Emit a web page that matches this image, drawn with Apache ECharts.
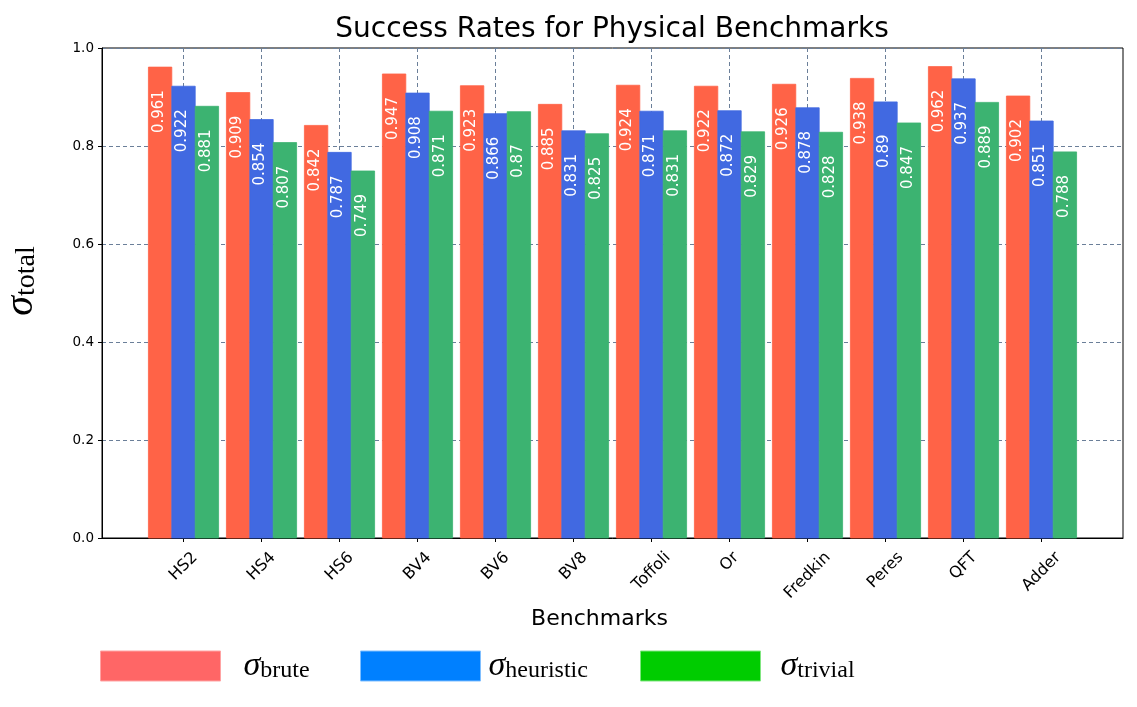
<!DOCTYPE html>
<html>
<head>
<meta charset="utf-8">
<script src="https://cdn.jsdelivr.net/npm/echarts@6/dist/echarts.min.js"></script>
<style>
html,body{margin:0;padding:0;background:#fff;}
#chart{width:1137px;height:707px;}
</style>
</head>
<body>
<div id="chart"></div>
<script>
const categories = ['HS2','HS4','HS6','BV4','BV6','BV8','Toffoli','Or','Fredkin','Peres','QFT','Adder'];
const bruteValues = [0.961,0.909,0.842,0.947,0.923,0.885,0.924,0.922,0.926,0.938,0.962,0.902];
const heuristicValues = [0.922,0.854,0.787,0.908,0.866,0.831,0.871,0.872,0.878,0.89,0.937,0.851];
const trivialValues = [0.881,0.807,0.749,0.871,0.87,0.825,0.831,0.829,0.828,0.847,0.889,0.788];
const yTickValues = [0, 0.2, 0.4, 0.6, 0.8, 1.0];
const seriesNames = ['brute','heuristic','trivial'];

const BAR_W = 0.3;
const barColors = ['#ff6347','#4169e1','#3cb371'];
const legendColors = ['#ff6666','#0080ff','#00cc00'];
const legendBorders = ['#ffa3a3','#80bfff','#80e680'];
const serif = 'Liberation Serif';
const XLAB_SIZE = 16;

// measure x label widths for matplotlib-like centered rotated labels
const cv = document.createElement('canvas').getContext('2d');
cv.font = XLAB_SIZE + 'px "DejaVu Sans"';
const xRich = {};
categories.forEach((c, i) => {
  const L = cv.measureText(c).width;
  xRich['l' + i] = {
    fontSize: XLAB_SIZE, fontFamily: 'DejaVu Sans', color: '#000',
    padding: [L / 2, L / 2, 0, 0]
  };
});

function mkData(vals, off) {
  return vals.map((v, i) => [i + off, v]);
}

function renderBar(params, api) {
  const x = api.value(0), v = api.value(1);
  const base = api.coord([x, 0]);
  const top = api.coord([x, v]);
  const w = api.size([BAR_W, 0])[0];
  const col = api.visual('color');
  return {
    type: 'group',
    children: [
      { type: 'rect', shape: { x: top[0] - w / 2, y: top[1], width: w, height: base[1] - top[1] },
        style: { fill: col, stroke: col, lineWidth: 0.8 } },
      { type: 'text', x: top[0] - 1, y: top[1] + 66, rotation: Math.PI / 2,
        style: { text: String(v), fill: '#fff', font: '15px "DejaVu Sans"', align: 'left', verticalAlign: 'middle' } }
    ]
  };
}

const allVals = [bruteValues, heuristicValues, trivialValues];
const offsets = [-BAR_W, 0, BAR_W];
const tickPositions = categories.map((c, i) => i);
// axis range like matplotlib: 5% margins around bar extents
const lo = -BAR_W - BAR_W / 2, hi = categories.length - 1 + BAR_W + BAR_W / 2;
const pad = (hi - lo) * 0.05;

function legendFor(idx, left, textPad) {
  return {
    left: left, top: 649, padding: 0, orient: 'horizontal',
    icon: 'rect', itemWidth: 120, itemHeight: 30, selectedMode: false,
    data: [{ name: seriesNames[idx], itemStyle: { color: legendColors[idx], borderColor: legendBorders[idx], borderWidth: 1 } }],
    formatter: n => '{s|σ}{b|' + n + '}',
    textStyle: {
      rich: {
        s: { fontFamily: serif, fontStyle: 'italic', fontSize: 34, color: '#000', verticalAlign: 'bottom', padding: [0, 0, 0, textPad] },
        b: { fontFamily: serif, fontSize: 24, color: '#000', verticalAlign: 'bottom' }
      }
    }
  };
}

const chart = echarts.init(document.getElementById('chart'), null, { renderer: 'canvas' });
chart.setOption({
  animation: false,
  backgroundColor: '#fff',
  title: {
    text: 'Success Rates for Physical Benchmarks',
    left: 607, top: 11, textAlign: 'center',
    textStyle: { fontFamily: 'DejaVu Sans', fontSize: 28, fontWeight: 'normal', color: '#000' }
  },
  legend: [legendFor(0, 100, 18), legendFor(1, 360, 3), legendFor(2, 640, 15)],
  grid: { left: 102, right: 14, top: 48, bottom: 169, show: true, borderColor: '#000', borderWidth: 1,
          backgroundColor: '#fff', containLabel: false, outerBoundsMode: 'none' },
  xAxis: {
    type: 'value',
    min: lo - pad, max: hi + pad,
    name: 'Benchmarks', nameLocation: 'middle', nameGap: 69,
    nameTextStyle: { fontFamily: 'DejaVu Sans', fontSize: 22, color: '#000', padding: [0, 26, 0, 0] },
    axisLine: { show: true, onZero: false, lineStyle: { color: '#000', width: 1 } },
    axisTick: { show: true, length: 4, lineStyle: { color: '#000' }, customValues: tickPositions },
    axisLabel: {
      customValues: tickPositions, rotate: 45, align: 'center', verticalAlign: 'middle', margin: 17,
      formatter: (v) => { const i = Math.round(v); return '{l' + i + '|' + categories[i] + '}'; },
      rich: xRich
    },
    splitLine: { show: true, customValues: tickPositions, lineStyle: { color: '#6b7f99', type: [4, 3], width: 1 } }
  },
  yAxis: {
    type: 'value', min: yTickValues[0], max: yTickValues[yTickValues.length - 1], interval: yTickValues[1] - yTickValues[0],
    name: '{s|σ}{b|total}', nameLocation: 'middle', nameGap: 61,
    nameTextStyle: {
      padding: [0, 0, 0, 24],
      rich: {
        s: { fontFamily: serif, fontStyle: 'italic', fontSize: 40, color: '#000', verticalAlign: 'bottom' },
        b: { fontFamily: serif, fontSize: 28, color: '#000', verticalAlign: 'bottom' }
      }
    },
    axisLine: { show: true, onZero: false, lineStyle: { color: '#000', width: 1 } },
    axisTick: { show: true, length: 4, lineStyle: { color: '#000' } },
    axisLabel: { margin: 8, fontFamily: 'DejaVu Sans', fontSize: 13.5, color: '#000', formatter: v => v.toFixed(1) },
    splitLine: { show: true, lineStyle: { color: '#6b7f99', type: [4, 3], width: 1 } }
  },
  series: seriesNames.map((n, k) => ({
    name: n, type: 'custom', coordinateSystem: 'cartesian2d',
    itemStyle: { color: barColors[k] },
    encode: { x: 0, y: 1 },
    clip: false,
    renderItem: renderBar,
    data: mkData(allVals[k], offsets[k]),
    z: 3
  }))
});
</script>
</body>
</html>
